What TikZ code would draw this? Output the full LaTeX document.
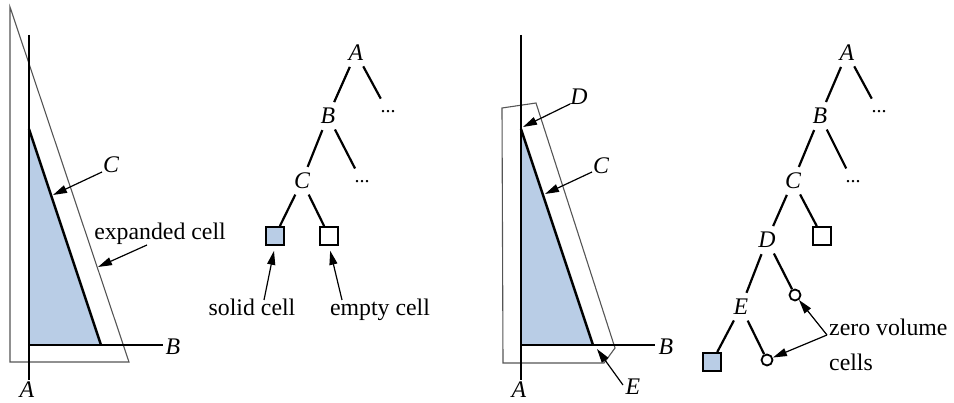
\documentclass[tikz,border=0pt]{standalone}
\usepackage{fontspec}
\setmainfont{Liberation Serif}
\usetikzlibrary{arrows.meta}
\definecolor{solidblue}{RGB}{185,205,230}
\definecolor{cellgray}{RGB}{85,85,85}
\begin{document}
\begin{tikzpicture}[x=1pt,y=-1pt,
  lbl/.style={font=\fontsize{23.8}{28}\selectfont\itshape, inner sep=0pt},
  txt/.style={font=\fontsize{23.8}{28}\selectfont, inner sep=0pt},
  tn/.style={lbl, circle, minimum size=30pt},
  dotsn/.style={font=\fontsize{20}{24}\selectfont, circle, inner sep=0pt, minimum size=30pt},
  axisline/.style={line width=2.4pt},
  edge/.style={line width=2.2pt},
  expcell/.style={draw=cellgray, line width=1.1pt},
  ptr/.style={line width=1.2pt, -{Triangle[length=14pt,width=8pt]}},
  sq/.style={draw, line width=1.8pt, minimum size=18pt, inner sep=0pt},
  zc/.style={draw, circle, line width=1.8pt, minimum size=11pt, inner sep=0pt}
]
\useasboundingbox (0,0) rectangle (954,403);

% ---------- Panel 1 ----------
\draw[expcell] (10,7) -- (10,362) -- (129,362) -- cycle;
\fill[solidblue] (29,129) -- (29,345) -- (101,345) -- cycle;
\draw[axisline] (29,129) -- (101,345);
\draw[axisline] (29,35) -- (29,380);
\draw[axisline] (29,345) -- (163,345);
\node[lbl] (lA1) at (27,390) {A};
\node[lbl] (lB1) at (173,347) {B};
\node[lbl] (lC1) at (111,165) {C};
\coordinate (c1s) at (102,172);
\coordinate (c1t) at (53,195);
\draw[ptr] (c1s) -- (c1t);
\node[txt, anchor=base] (exp) at (160,240) {expanded cell};
\coordinate (ex1s) at (147,245);
\coordinate (ex1t) at (98,267);
\draw[ptr] (ex1s) -- (ex1t);

% ---------- Tree 1 ----------
\node[tn] (tA1) at (356,53) {A};
\node[tn] (tB1) at (328,116) {B};
\node[tn] (tC1) at (302,181) {C};
\node[dotsn] (d11) at (388,112) {...};
\node[dotsn] (d12) at (362,182) {...};
\node[sq, fill=solidblue] (s1) at (275,236) {};
\node[sq] (e1) at (329,236) {};
\draw[edge] (tA1) -- (tB1);
\draw[edge] (tA1) -- (d11);
\draw[edge] (tB1) -- (tC1);
\draw[edge] (tB1) -- (d12);
\draw[edge] (tC1) -- (s1);
\draw[edge] (tC1) -- (e1);
\node[txt, anchor=base] (sl) at (252,316) {solid cell};
\node[txt, anchor=base] (el) at (380,316) {empty cell};
\coordinate (sa) at (264,300);
\coordinate (ea) at (342,300);
\draw[ptr, shorten >=5pt] (sa) -- (s1.south);
\draw[ptr, shorten >=5pt] (ea) -- (e1.south);

% ---------- Panel 2 ----------
\draw[expcell] (502,108) -- (536,103) -- (615,348) -- (604,363) -- (503,363) -- cycle;
\fill[solidblue] (521,129) -- (521,345) -- (593,345) -- cycle;
\draw[axisline] (521,129) -- (593,345);
\draw[axisline] (521,35) -- (521,380);
\draw[axisline] (521,345) -- (655,345);
\node[lbl] (lA2) at (519,390) {A};
\node[lbl] (lB2) at (666,347) {B};
\node[lbl] (lD2) at (579,97) {D};
\node[lbl] (lC2) at (601,166) {C};
\node[lbl] (lE2) at (633,387) {E};
\coordinate (d2s) at (570,104);
\coordinate (d2t) at (523,127);
\draw[ptr] (d2s) -- (d2t);
\coordinate (c2s) at (592,172);
\coordinate (c2t) at (545,194);
\draw[ptr] (c2s) -- (c2t);
\coordinate (e2s) at (623,385);
\coordinate (e2t) at (597,349);
\draw[ptr] (e2s) -- (e2t);

% ---------- Tree 2 ----------
\node[tn] (tA2) at (847,53) {A};
\node[tn] (tB2) at (820,116) {B};
\node[tn] (tC2) at (793,181) {C};
\node[tn] (tD2) at (767,240) {D};
\node[tn] (tE2) at (741,307) {E};
\node[dotsn] (d21) at (879,112) {...};
\node[dotsn] (d22) at (853,182) {...};
\node[sq] (e2) at (822,236) {};
\node[zc] (c21) at (795,295) {};
\node[zc] (c22) at (767,360) {};
\node[sq, fill=solidblue] (s2) at (712,362) {};
\draw[edge] (tA2) -- (tB2);
\draw[edge] (tA2) -- (d21);
\draw[edge] (tB2) -- (tC2);
\draw[edge] (tB2) -- (d22);
\draw[edge] (tC2) -- (tD2);
\draw[edge] (tC2) -- (e2);
\draw[edge] (tD2) -- (tE2);
\draw[edge] (tD2) -- (c21);
\draw[edge] (tE2) -- (s2);
\draw[edge] (tE2) -- (c22);
\node[txt, anchor=base west] (zv1) at (829,336) {zero volume};
\node[txt, anchor=base west] (zv2) at (829,371) {cells};
\coordinate (zv) at (827,335);
\draw[ptr] (zv) -- (c21);
\draw[ptr] (zv) -- (c22);
\end{tikzpicture}
\end{document}
